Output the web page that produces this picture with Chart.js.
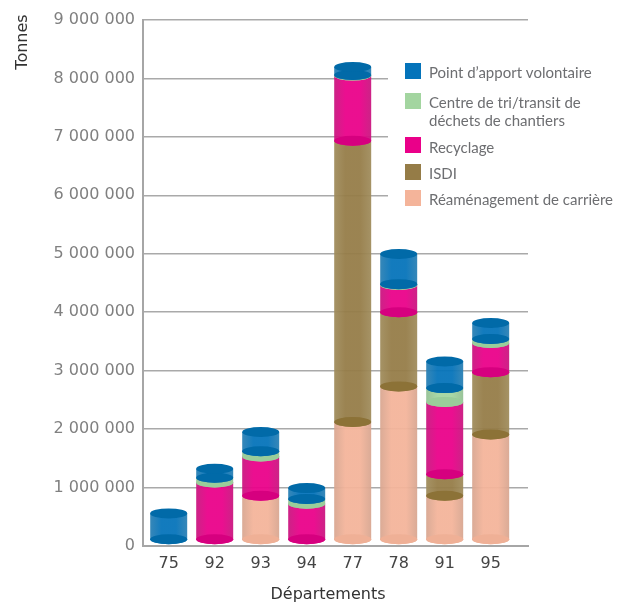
<!DOCTYPE html>
<html><head><meta charset="utf-8">
<style>html,body{margin:0;padding:0;background:#fff}canvas{display:block}</style>
<script src="https://cdn.jsdelivr.net/npm/chart.js@4/dist/chart.umd.min.js"></script>
</head><body><canvas id="c" width="628" height="603"></canvas>
<script>
const categories = ['75','92','93','94','77','78','91','95'];
const reamenagement = [0, 0, 756000, 0, 2020000, 2628000, 756000, 1804000];
const isdi          = [0, 0, 0, 0, 4810000, 1268000, 370000, 1068000];
const recyclage     = [0, 985000, 672000, 620000, 1116000, 467000, 1234000, 500000];
const centreTri     = [0, 80000, 90000, 80000, 10000, 15000, 239000, 68000];
const pointApport   = [455000, 154000, 330000, 188000, 137000, 517000, 456000, 273000];
const yTicks = [0,1000000,2000000,3000000,4000000,5000000,6000000,7000000,8000000,9000000];
const fmt = v => String(v).replace(/\B(?=(\d{3})+$)/g,' ');

const palette = {
  peach:{main:'#f4b49a',edge:'#d8a690',shade:'#efb096'},
  brown:{main:'#957c47',edge:'#a08c5c',shade:'#8c7237'},
  pink:{main:'#ea0089',edge:'#c9157f',shade:'#d6007f'},
  green:{main:'#a3d5a0',edge:'#93c093',shade:'#9acd9a'},
  blue:{main:'#0473ba',edge:'#2a80b4',shade:'#016aa8'}
};
const series = [
  {label:'Réaménagement de carrière',data:reamenagement,tone:palette.peach},
  {label:'ISDI',data:isdi,tone:palette.brown},
  {label:'Recyclage',data:recyclage,tone:palette.pink},
  {label:'Centre de tri/transit de\ndéchets de chantiers',data:centreTri,tone:palette.green},
  {label:'Point d’apport volontaire',data:pointApport,tone:palette.blue}
];
const LIFT = 6, RY = 5;

const cylinders = {
  id:'cylinders',
  beforeDatasetsDraw(chart){
    const ctx = chart.ctx;
    ctx.fillStyle = '#fff';
    ctx.fillRect(388,50,240,165);
    const tops = categories.map(()=>null);
    chart.data.datasets.forEach((ds,di)=>{
      const meta = chart.getDatasetMeta(di);
      const tone = series[di].tone;
      meta.data.forEach((bar,i)=>{
        if(!ds.data[i].y) return;
        const w = bar.width, l = bar.x-w/2, r = bar.x+w/2;
        const top = bar.y-LIFT, bot = bar.base-LIFT;
        const g = ctx.createLinearGradient(l,0,r,0);
        g.addColorStop(0,tone.edge); g.addColorStop(.3,tone.main); g.addColorStop(.7,tone.main); g.addColorStop(1,tone.edge);
        ctx.save();
        ctx.globalAlpha = .94;
        ctx.fillStyle = g;
        ctx.beginPath();
        ctx.moveTo(l,top); ctx.lineTo(r,top); ctx.lineTo(r,bot);
        ctx.ellipse(bar.x,bot,w/2,RY,0,0,Math.PI);
        ctx.closePath(); ctx.fill();
        ctx.globalAlpha = 1;
        ctx.fillStyle = tone.shade;
        ctx.beginPath(); ctx.ellipse(bar.x,bot,w/2,RY,0,0,Math.PI*2); ctx.fill();
        ctx.restore();
        tops[i] = {x:bar.x,y:top,w,tone};
      });
    });
    tops.forEach(t=>{ if(!t) return;
      ctx.fillStyle = t.tone.shade;
      ctx.beginPath(); ctx.ellipse(t.x,t.y,t.w/2,RY,0,0,Math.PI*2); ctx.fill();
    });
    return false;
  },
  afterDraw(chart){
    const ctx = chart.ctx;
    ctx.save();
    ctx.textBaseline = 'middle'; ctx.textAlign='left';
    const slots = [{y:190,t:[200]},{y:164,t:[174]},{y:137,t:[148]},{y:93,t:[103,121]},{y:63,t:[73]}];
    series.forEach((s,i)=>{
      ctx.fillStyle = s.tone.main;
      ctx.fillRect(405,slots[i].y,16,16);
      ctx.fillStyle = '#6d6e71';
      ctx.font = '15px Lato';
      s.label.split('\n').forEach((line,k)=>ctx.fillText(line,429,slots[i].t[k]));
    });
    ctx.fillStyle = '#333';
    ctx.font = '16px "DejaVu Sans"';
    ctx.textAlign = 'center';
    ctx.fillText('Départements',328,595);
    ctx.translate(23,42); ctx.rotate(-Math.PI/2);
    ctx.fillText('Tonnes',0,0);
    ctx.restore();
  }
};

new Chart(document.getElementById('c'),{
  type:'bar',
  data:{datasets:series.map(s=>({
    label:s.label,
    backgroundColor:s.tone.main,
    barThickness:37,
    data:s.data.map((y,i)=>({x:i,y}))
  }))},
  plugins:[cylinders],
  options:{
    responsive:false,animation:false,
    layout:{padding:{top:20,right:100,left:0,bottom:0}},
    plugins:{legend:{display:false},tooltip:{enabled:false}},
    scales:{
      x:{type:'linear',stacked:true,offset:false,min:-0.5587,max:7.811,
        afterBuildTicks(s){s.ticks=categories.map((_,i)=>({value:i}));},
        afterFit(s){s.height=57;},
        grid:{display:false,offset:false},
        border:{color:'#a6a6a6',width:2},
        ticks:{autoSkip:false,maxRotation:0,padding:0,color:'#444',font:{family:'"DejaVu Sans"',size:16},callback:v=>categories[v]}
      },
      y:{stacked:true,min:0,max:9000000,
        afterBuildTicks(s){s.ticks=yTicks.map(value=>({value}));},
        afterFit(s){s.width=143;},
        grid:{color:'#a9a9a9',lineWidth:1.5,drawTicks:false},
        border:{color:'#a6a6a6',width:2},
        ticks:{padding:8,color:'#808080',font:{family:'"DejaVu Sans"',size:16},callback:fmt}
      }
    }
  }
});
</script></body></html>
